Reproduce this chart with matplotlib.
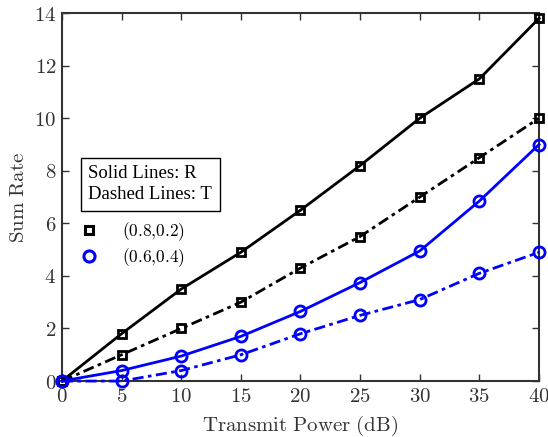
import numpy as np
import matplotlib
matplotlib.use('Agg')
import matplotlib.pyplot as plt

plt.rcParams['mathtext.fontset'] = 'cm'
plt.rcParams['font.family'] = ['DejaVu Serif']

# data
power = [0, 5, 10, 15, 20, 25, 30, 35, 40]
r_08 = [0, 1.8, 3.5, 4.9, 6.5, 8.2, 10.0, 11.5, 13.8]
t_08 = [0, 1.0, 2.0, 3.0, 4.3, 5.5, 7.0, 8.5, 10.0]
r_06 = [0, 0.4, 0.95, 1.7, 2.65, 3.75, 4.95, 6.85, 9.0]
t_06 = [0, 0, 0.4, 1.0, 1.8, 2.5, 3.1, 4.1, 4.9]
xticks = [0, 5, 10, 15, 20, 25, 30, 35, 40]
yticks = [0, 2, 4, 6, 8, 10, 12, 14]
legend_names = ['(0.8{,}0.2)', '(0.6{,}0.4)']

fig = plt.figure(figsize=(5.48, 4.37), dpi=100)
ax = fig.add_axes([0.113, 0.128, 0.8706, 0.842])

blk = 'black'
blu = '#0000ff'
mk = dict(markeredgewidth=2, markerfacecolor='none', clip_on=False, zorder=3)
dd = (4, 1.6, 1.3, 1.6)

ax.plot(power, r_08, '-', color=blk, lw=2, marker='s', markersize=6, markeredgecolor=blk, **mk)
ax.plot(power, t_08, '-.', dashes=dd, color=blk, lw=2, marker='s', markersize=6, markeredgecolor=blk, **mk)
ax.plot(power, r_06, '-', color=blu, lw=2, marker='o', markersize=8, markeredgecolor=blu, **mk)
ax.plot(power, t_06, '-.', dashes=dd, color=blu, lw=2, marker='o', markersize=8, markeredgecolor=blu, **mk)

ax.set_xlim(0, 40)
ax.set_ylim(0, 14)
ax.set_xticks(xticks)
ax.set_yticks(yticks)
gray = '#333333'
ax.set_xticklabels(['$%d$' % v for v in xticks], fontsize=15, color=gray)
ax.set_yticklabels(['$%d$' % v for v in yticks], fontsize=15, color=gray)
ax.tick_params(direction='in', top=True, right=True, length=5, width=1, color=gray, pad=4)
for s in ax.spines.values():
    s.set_linewidth(1.5)
    s.set_color(gray)

ax.set_xlabel(r'$\mathrm{Transmit\ Power\ (dB)}$', fontsize=15, color=gray, labelpad=6)
ax.set_ylabel(r'$\mathrm{Sum\ Rate}$', fontsize=15, color=gray, labelpad=4)

# text box
ax.text(0.055, 0.535, 'Solid Lines: R\nDashed Lines: T', transform=ax.transAxes,
        fontsize=13.5, family='Liberation Serif', linespacing=1.3, va='center', ha='left',
        bbox=dict(boxstyle='square,pad=0.4', fc='white', ec=blk, lw=1), zorder=5)

h1, = ax.plot([], [], 's', color=blk, markersize=6, markeredgewidth=2.2, markerfacecolor='none')
h2, = ax.plot([], [], 'o', color=blu, markersize=8, markeredgewidth=2.2, markerfacecolor='none')
ax.legend([h1, h2], ['$%s$' % n for n in legend_names], loc='upper left',
          bbox_to_anchor=(0.035, 0.437), frameon=False, fontsize=12.5,
          handlelength=1.2, handletextpad=1.3, labelspacing=0.2, borderaxespad=0,
          borderpad=0)

fig.savefig('out.png', dpi=100)
